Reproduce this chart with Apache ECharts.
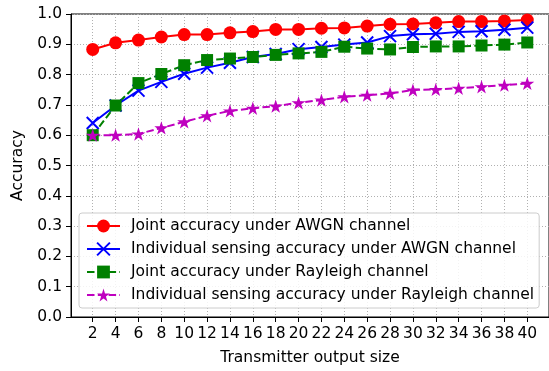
<!DOCTYPE html>
<html>
<head>
<meta charset="utf-8">
<script src="https://cdn.jsdelivr.net/npm/echarts@6/dist/echarts.min.js"></script>
<style>html,body{margin:0;padding:0;background:#fff;}#c{width:549px;height:371px;}</style>
</head>
<body>
<div id="c"></div>
<script>
const sizes = [2,4,6,8,10,12,14,16,18,20,22,24,26,28,30,32,34,36,38,40];
const jointAWGN = [0.883,0.905,0.914,0.924,0.932,0.932,0.938,0.942,0.949,0.949,0.953,0.954,0.960,0.966,0.967,0.971,0.975,0.975,0.977,0.980];
const indivAWGN = [0.640,0.698,0.747,0.776,0.803,0.823,0.839,0.858,0.868,0.884,0.891,0.899,0.906,0.927,0.933,0.935,0.941,0.943,0.948,0.955];
const jointRay = [0.600,0.698,0.772,0.802,0.831,0.848,0.853,0.858,0.865,0.870,0.875,0.892,0.886,0.883,0.891,0.893,0.893,0.896,0.899,0.906];
const indivRay = [0.600,0.600,0.604,0.624,0.644,0.664,0.680,0.689,0.696,0.707,0.716,0.727,0.732,0.738,0.749,0.751,0.755,0.760,0.765,0.771];
const yTicks = [0,0.1,0.2,0.3,0.4,0.5,0.6,0.7,0.8,0.9,1.0];
const names = [
  'Joint accuracy under AWGN channel',
  'Individual sensing accuracy under AWGN channel',
  'Joint accuracy under Rayleigh channel',
  'Individual sensing accuracy under Rayleigh channel'
];

function starPath() {
  let p = [];
  for (let i = 0; i < 10; i++) {
    const a = (-90 + i * 36) * Math.PI / 180;
    const r = i % 2 === 0 ? 50 : 19.1;
    p.push((50 + r * Math.cos(a)).toFixed(2) + ',' + (50 + r * Math.sin(a)).toFixed(2));
  }
  return 'path://M' + p.join('L') + 'Z';
}
const pair = arr => sizes.map((s, i) => [s, arr[i]]);
const FONT = 'DejaVu Sans';
const FS = 15.5;

const chart = echarts.init(document.getElementById('c'), null, {renderer: 'canvas'});
chart.setOption({
  animation: false,
  textStyle: {fontFamily: FONT},
  grid: {left: 71, right: -2, top: 14, bottom: 54, show: true, borderColor: '#000', borderWidth: 1, backgroundColor: 'transparent'},
  xAxis: {
    type: 'value', min: 0.1, max: 41.9,
    name: 'Transmitter output size', nameLocation: 'middle', nameGap: 33,
    nameTextStyle: {fontFamily: FONT, fontSize: FS, color: '#000'},
    axisLine: {show: true, onZero: false, lineStyle: {color: '#000', width: 1}},
    axisTick: {show: true, length: 5, lineStyle: {color: '#000'}, customValues: sizes},
    axisLabel: {fontFamily: FONT, fontSize: FS, color: '#000', margin: 9, customValues: sizes},
    splitLine: {show: true, lineStyle: {color: '#b0b0b0', width: 1, type: [1, 2]}}
  },
  yAxis: {
    type: 'value', min: 0, max: 1, interval: 0.1,
    name: 'Accuracy', nameLocation: 'middle', nameGap: 45,
    nameTextStyle: {fontFamily: FONT, fontSize: FS, color: '#000'},
    axisLine: {show: true, lineStyle: {color: '#000', width: 1}},
    axisTick: {show: true, length: 5, lineStyle: {color: '#000'}},
    axisLabel: {fontFamily: FONT, fontSize: FS, color: '#000', margin: 9, formatter: v => v.toFixed(1)},
    splitLine: {show: true, lineStyle: {color: '#b0b0b0', width: 1, type: [1, 2]}}
  },
  legend: {
    orient: 'vertical', left: 79, top: 213,
    itemWidth: 33, itemHeight: 16, itemGap: 5,
    padding: [4, 5, 4, 7],
    backgroundColor: 'rgba(255,255,255,0.85)', borderColor: '#cccccc', borderWidth: 1, borderRadius: 3,
    textStyle: {fontFamily: FONT, fontSize: FS, color: '#000', lineHeight: 18, padding: [0, 0, 0, 6]},
    data: names
  },
  series: [
    {name: names[0], type: 'line', data: pair(jointAWGN), color: '#ff0000',
     symbol: 'circle', symbolSize: 13,
     lineStyle: {color: '#ff0000', width: 2}, itemStyle: {color: '#ff0000'}},
    {name: names[1], type: 'line', data: pair(indivAWGN), color: '#0000ff',
     symbol: 'path://M0,0L10,10M10,0L0,10', symbolSize: 12,
     lineStyle: {color: '#0000ff', width: 2}, itemStyle: {color: '#0000ff', borderColor: '#0000ff', borderWidth: 2}},
    {name: names[2], type: 'line', data: pair(jointRay), color: '#008000',
     symbol: 'rect', symbolSize: 12,
     lineStyle: {color: '#008000', width: 2, type: [7.5, 3.3]}, itemStyle: {color: '#008000'}},
    {name: names[3], type: 'line', data: pair(indivRay), color: '#bf00bf',
     symbol: starPath(), symbolSize: 14, symbolKeepAspect: true,
     lineStyle: {color: '#bf00bf', width: 2, type: [7.5, 3.3]}, itemStyle: {color: '#bf00bf'}}
  ]
});
</script>
</body>
</html>
